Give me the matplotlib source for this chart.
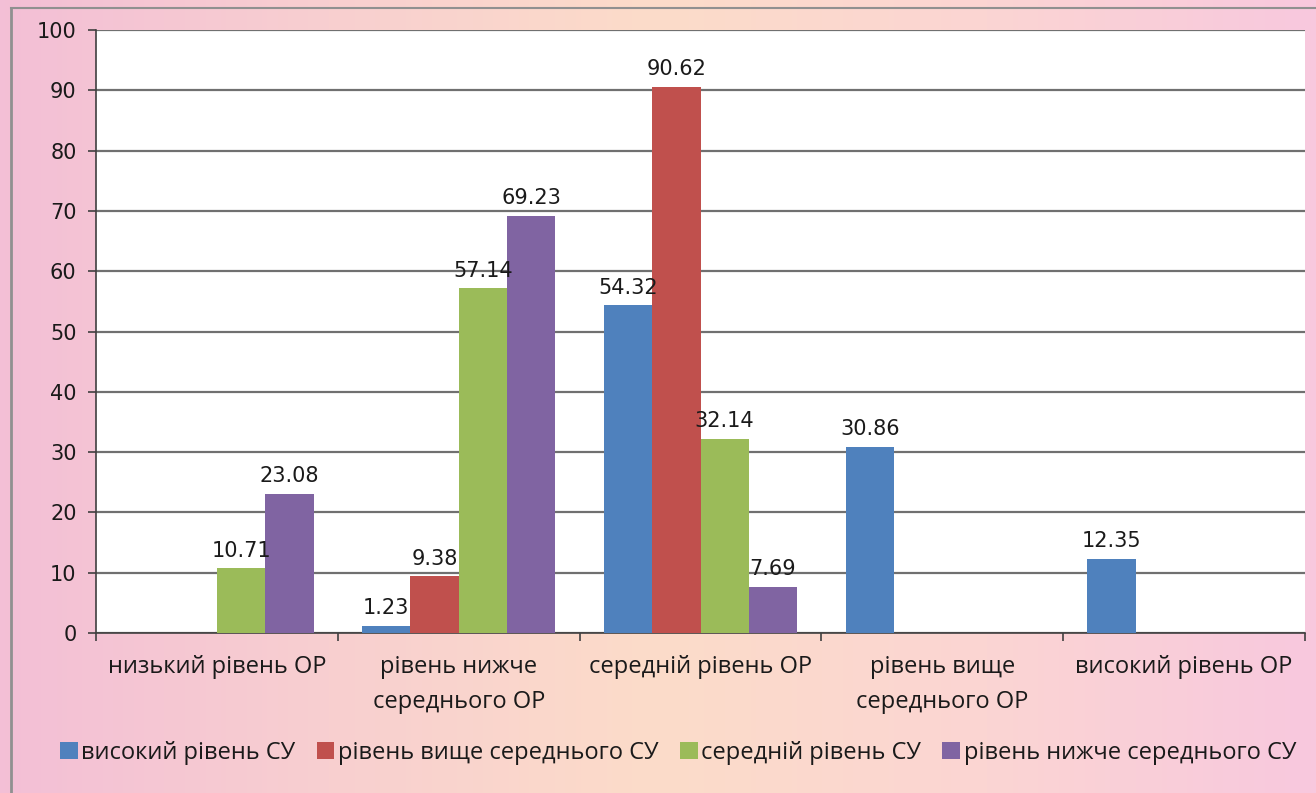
import numpy as np
import matplotlib
matplotlib.use("Agg")
import matplotlib.pyplot as plt
from matplotlib.colors import LinearSegmentedColormap

categories = ["низький рівень ОР", "рівень нижче\nсереднього ОР", "середній рівень ОР",
              "рівень вище\nсереднього ОР", "високий рівень ОР"]
series_names = ["високий рівень СУ", "рівень вище середнього СУ",
                "середній рівень СУ", "рівень нижче середнього СУ"]
vals_high = [0, 1.23, 54.32, 30.86, 12.35]
vals_above = [0, 9.38, 90.62, 0, 0]
vals_mid = [10.71, 57.14, 32.14, 0, 0]
vals_below = [23.08, 69.23, 7.69, 0, 0]
yticks = [0, 10, 20, 30, 40, 50, 60, 70, 80, 90, 100]

colors = ["#4f81bd", "#c0504d", "#9bbb59", "#8064a2"]
plt.rcParams['font.family'] = ['Open Sans', 'DejaVu Sans']
NUMFONT = ['DejaVu Sans']

fig = plt.figure(figsize=(13.16, 7.93), dpi=100)
# background gradient
bg = fig.add_axes([0, 0, 1, 1], zorder=-10)
cmap = LinearSegmentedColormap.from_list("bg", ["#f3bfd6", "#f8cfd0", "#fcdcc9", "#fbd5d3", "#f8c8de"])
grad = np.linspace(0, 1, 256).reshape(1, -1)
bg.imshow(grad, aspect='auto', cmap=cmap, extent=[0, 1, 0, 1])
bg.plot([0.008, 0.008], [0, 0.99], color="#909090", lw=2)
bg.plot([0.008, 1], [0.99, 0.99], color="#909090", lw=1.5)
bg.set_xlim(0, 1); bg.set_ylim(0, 1)
bg.axis('off')

W, H = 1316, 793
ax = fig.add_axes([96 / W, 1 - 633 / H, (1305 - 96) / W, (633 - 30) / H])
ax.set_facecolor("white")
x = np.arange(len(categories))
bw = 0.2
all_series = [vals_high, vals_above, vals_mid, vals_below]
for i, (vals, name, c) in enumerate(zip(all_series, series_names, colors)):
    pos = x + (i - 1.5) * bw
    ax.bar(pos, vals, bw, color=c, label=name, zorder=3)
    for p, v in zip(pos, vals):
        if v > 0:
            ax.text(p, v + 1.3, f"{v:.2f}", ha='center', va='bottom', fontsize=15,
                    family=NUMFONT, color="#1a1a1a", zorder=4)

ax.set_xlim(-0.5, len(categories) - 0.5)
ax.set_ylim(0, 100)
ax.set_yticks(yticks)
ax.set_yticklabels([str(t) for t in yticks], family=NUMFONT, fontsize=15, color="#1a1a1a")
ax.yaxis.grid(True, color="#707070", lw=1.6, zorder=0)
ax.set_axisbelow(True)
ax.set_xticks(np.arange(len(categories) + 1) - 0.5)
ax.set_xticklabels([])
ax.set_xticks(x, minor=True)
ax.set_xticklabels(categories, minor=True, fontsize=17, color="#1a1a1a", linespacing=1.6)
ax.tick_params(axis='x', which='minor', length=0, pad=16)
ax.tick_params(axis='x', which='major', length=6, color="#404040", width=1.2)
ax.tick_params(axis='y', length=6, color="#404040", width=1.2, pad=8)
for s in ['top', 'right']:
    ax.spines[s].set_visible(False)
ax.spines['left'].set_color("#404040")
ax.spines['bottom'].set_color("#404040")
ax.spines['left'].set_linewidth(1.2)
ax.spines['bottom'].set_linewidth(1.2)

fig.legend(loc='center', bbox_to_anchor=(678 / W, 1 - 753 / H), ncol=4, frameon=False,
           fontsize=17, handlelength=0.75, handleheight=0.75, handletextpad=0.15,
           columnspacing=0.9, labelcolor="#1a1a1a")

fig.savefig("out.png", dpi=100)
